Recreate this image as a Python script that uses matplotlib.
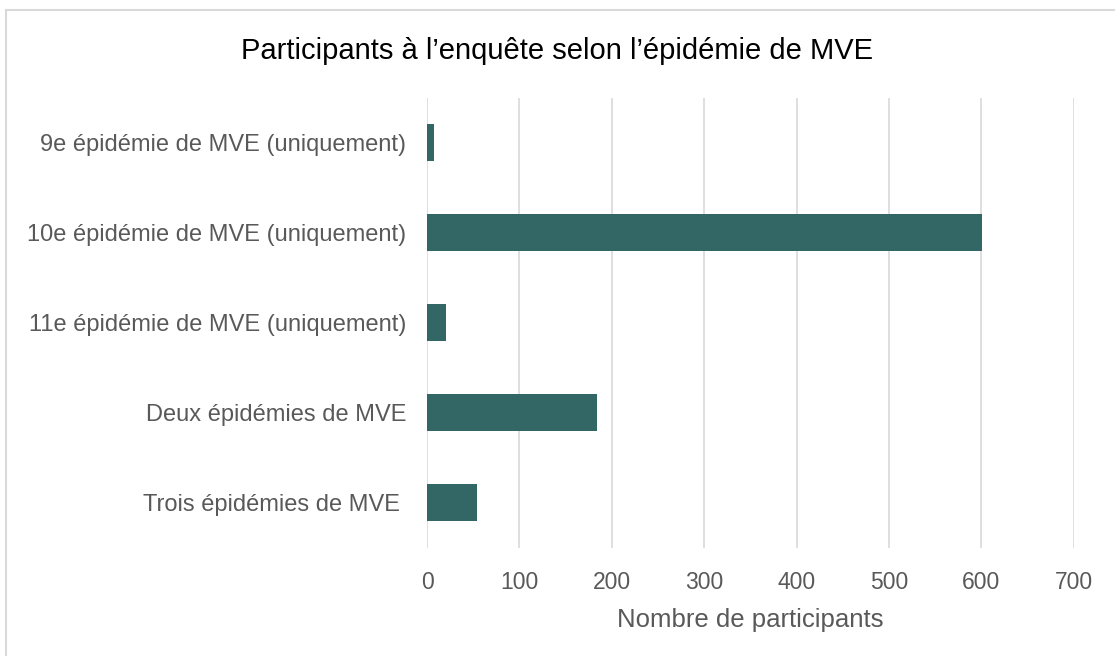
import matplotlib.pyplot as plt
from matplotlib.lines import Line2D

categories = [
    '9e épidémie de MVE (uniquement)',
    '10e épidémie de MVE (uniquement)',
    '11e épidémie de MVE (uniquement)',
    'Deux épidémies de MVE',
    'Trois épidémies de MVE ',
]
participants = [7, 601, 21, 184, 54]
xticks = [0, 100, 200, 300, 400, 500, 600, 700]

plt.rcParams['font.family'] = ['Liberation Sans', 'DejaVu Sans']

fig = plt.figure(figsize=(11.15, 6.56), dpi=100)
ax = fig.add_axes([0.383, 0.165, 0.58, 0.686])

ypos = list(range(len(categories)))
ax.barh(ypos, participants, height=0.41, color='#336766', zorder=3)
ax.set_ylim(len(categories) - 0.5, -0.5)
ax.set_xlim(0, 700)
ax.set_yticks(ypos)
ax.set_yticklabels(categories, fontsize=17, color='#595959')
ax.set_xticks(xticks)
ax.set_xticklabels([str(t) for t in xticks], fontsize=16.5, color='#595959')
ax.tick_params(length=0)
ax.tick_params(axis='x', pad=17)
ax.tick_params(axis='y', pad=15)
ax.grid(axis='x', color='#d9d9d9', linewidth=1.2, zorder=0)
for s in ax.spines.values():
    s.set_visible(False)

ax.set_xlabel('Nombre de participants', fontsize=18.5, color='#595959', labelpad=10)
fig.text(0.5, 0.923, 'Participants à l\u2019enquête selon l\u2019épidémie de MVE',
         ha='center', va='center', fontsize=21, color='black')

# outer chart border (only top and left edges are inside the image)
fig.lines.append(Line2D([0.0055, 1.0], [0.984, 0.984], transform=fig.transFigure,
                        color='#d9d9d9', linewidth=1.5))
fig.lines.append(Line2D([0.0055, 0.0055], [0.0, 0.984], transform=fig.transFigure,
                        color='#d9d9d9', linewidth=1.5))

fig.savefig('out.png', dpi=100)
